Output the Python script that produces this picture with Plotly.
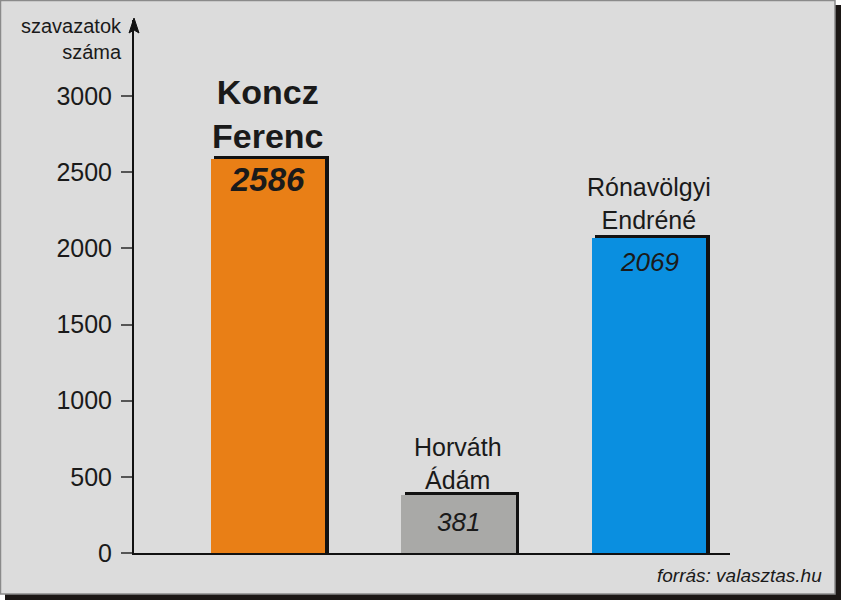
import plotly.graph_objects as go

# data
candidates = ["Koncz Ferenc", "Horváth Ádám", "Rónavölgyi Endréné"]
name_labels = ["Koncz<br>Ferenc", "Horváth<br>Ádám", "Rónavölgyi<br>Endréné"]
votes = [2586, 381, 2069]
bar_colors = ["#e97f16", "#a9a9a7", "#0a8fe0"]
y_ticks = [0, 500, 1000, 1500, 2000, 2500, 3000]
axis_title = "szavazatok<br>száma"
source_note = "forrás: valasztas.hu"

W, H = 841, 600
ML, MR, MT, MB = 134, 111, 20, 47
PW, PH = W - ML - MR, H - MT - MB
Y_MAX = 3500
X_RANGE = [-0.703, 2.425]
FONT = "Arial, 'Liberation Sans', sans-serif"
INK = "#1a1a1a"


def px_x(p):
    return (p - ML) / PW


def px_y(p):
    return 1 - (p - MT) / PH


xs = list(range(len(candidates)))
units_per_px_y = Y_MAX / PH
units_per_px_x = (X_RANGE[1] - X_RANGE[0]) / PW

fig = go.Figure()

# black drop shadow behind each bar (3px up and right)
fig.add_trace(go.Bar(
    x=xs, y=[v + 3 * units_per_px_y for v in votes],
    width=0.6, offset=-0.3 + 3.5 * units_per_px_x,
    marker=dict(color="#111111", line=dict(width=0)),
    hoverinfo="skip", showlegend=False,
))
fig.add_trace(go.Bar(
    x=xs, y=votes, width=0.6, offset=-0.3,
    marker=dict(color=bar_colors, line=dict(width=0)),
    showlegend=False,
))

annotations = []
name_sizes = [34, 25, 25]
name_bold = [True, False, False]
name_gaps = [45, 31, 34]
value_sizes = [33, 26, 26]
value_gaps = [20, 27, 24]
for i, v in enumerate(votes):
    txt = f"<b>{name_labels[i]}</b>" if name_bold[i] else name_labels[i]
    annotations.append(dict(
        x=xs[i], y=v, xref="x", yref="y", text=txt, showarrow=False,
        yanchor="middle", yshift=name_gaps[i],
        font=dict(family=FONT, size=name_sizes[i], color=INK),
    ))
    val = f"<b><i>{v}</i></b>" if name_bold[i] else f"<i>{v}</i>"
    annotations.append(dict(
        x=xs[i], y=v, xref="x", yref="y", text=val, showarrow=False,
        yanchor="middle", yshift=-value_gaps[i],
        font=dict(family=FONT, size=value_sizes[i], color=INK),
    ))

annotations.append(dict(
    x=px_x(124), y=px_y(13), xref="paper", yref="paper", text=axis_title,
    showarrow=False, xanchor="right", yanchor="top", align="right",
    font=dict(family=FONT, size=20, color=INK),
))
annotations.append(dict(
    x=px_x(824), y=px_y(588), xref="paper", yref="paper",
    text=f"<i>{source_note}</i>", showarrow=False,
    xanchor="right", yanchor="bottom",
    font=dict(family=FONT, size=19, color=INK),
))

shapes = [
    # frame shadow and panel
    dict(type="rect", xref="paper", yref="paper", layer="below",
         x0=px_x(5), x1=px_x(W), y0=px_y(H), y1=px_y(5),
         fillcolor="#1b1715", line=dict(width=0)),
    dict(type="rect", xref="paper", yref="paper", layer="below",
         x0=px_x(0.5), x1=px_x(835), y0=px_y(594), y1=px_y(0.5),
         fillcolor="#dcdcdc", line=dict(color="#8a8a8a", width=1.5)),
    # arrow head on the value axis
    dict(type="path", xref="paper", yref="paper",
         xsizemode="pixel", ysizemode="pixel", xanchor=px_x(134), yanchor=1,
         path="M0,2 L-5,-13 L0,-10 L5,-13 Z",
         fillcolor="#111111", line=dict(color="#111111", width=1)),
]

fig.update_layout(
    width=W, height=H,
    margin=dict(l=ML, r=MR, t=MT, b=MB, pad=0),
    paper_bgcolor="white", plot_bgcolor="rgba(0,0,0,0)",
    barmode="overlay", bargap=0,
    font=dict(family=FONT, color=INK),
    annotations=annotations, shapes=shapes,
    xaxis=dict(range=X_RANGE, showline=True, linecolor="#111111", linewidth=2,
               showgrid=False, zeroline=False, showticklabels=False, ticks=""),
    yaxis=dict(range=[0, Y_MAX], tickvals=y_ticks, showline=True,
               linecolor="#111111", linewidth=2, showgrid=False, zeroline=False,
               ticks="outside", ticklen=11, tickwidth=2, tickcolor="#555555",
               ticklabelstandoff=4,
               tickfont=dict(family=FONT, size=25, color=INK)),
)

# drop the default page margin so the frame lines up with the window
fig.write_html("out.html", config={"displayModeBar": False},
               post_script="document.body.style.margin='0';")
